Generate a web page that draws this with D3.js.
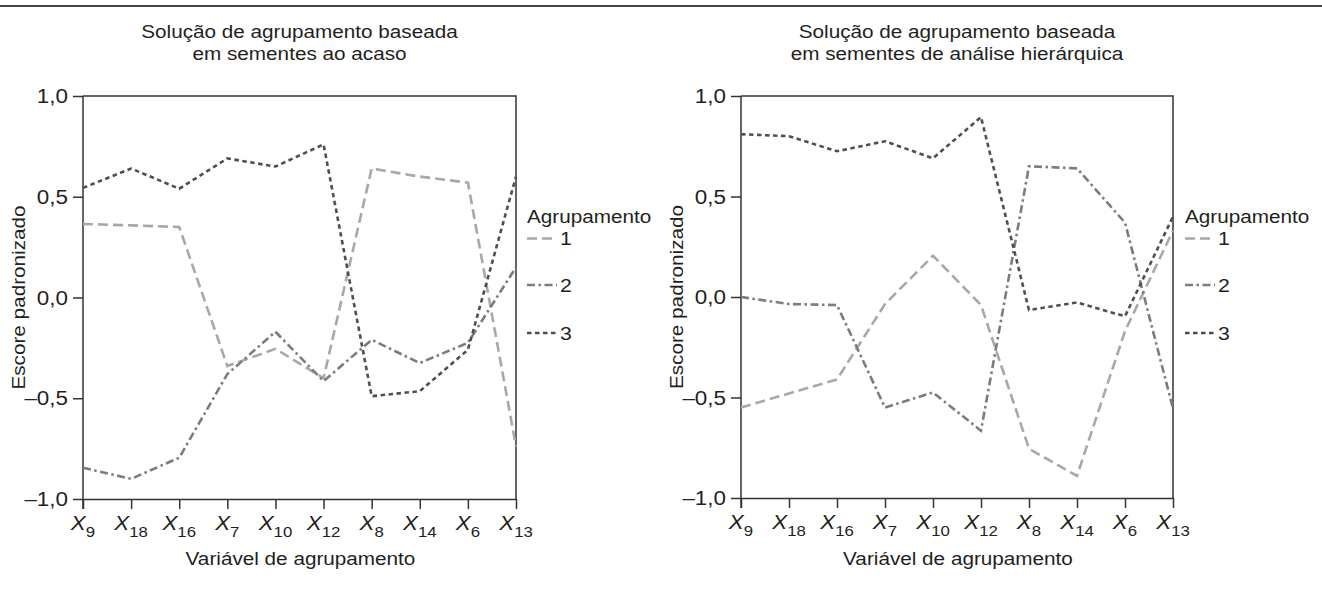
<!DOCTYPE html>
<html><head><meta charset="utf-8">
<script src="https://cdn.jsdelivr.net/npm/d3@7"></script>
<style>
body{margin:0;background:#fff;}
svg{display:block;font-family:"Liberation Sans",Arial,Helvetica,sans-serif;}
</style></head>
<body><svg id="c" width="1322" height="591"></svg>
<script>
// ---- data ----
const categories = ["9","18","16","7","10","12","8","14","6","13"];
const yTicks = [-1.0, -0.5, 0.0, 0.5, 1.0];
const seriesNames = ["1","2","3"];
const titlesLeft = ["Solução de agrupamento baseada","em sementes ao acaso"];
const titlesRight = ["Solução de agrupamento baseada","em sementes de análise hierárquica"];
const yLabel = "Escore padronizado";
const xLabel = "Variável de agrupamento";
const legendTitle = "Agrupamento";

// left panel: random seeds
const leftC1 = [0.365, 0.358, 0.350, -0.340, -0.255, -0.400, 0.640, 0.600, 0.570, -0.740];
const leftC2 = [-0.845, -0.900, -0.795, -0.380, -0.170, -0.415, -0.210, -0.325, -0.225, 0.150];
const leftC3 = [0.544, 0.640, 0.540, 0.690, 0.650, 0.760, -0.490, -0.465, -0.260, 0.600];
// right panel: hierarchical seeds
const rightC1 = [-0.550, -0.480, -0.410, -0.035, 0.205, -0.040, -0.755, -0.890, -0.170, 0.330];
const rightC2 = [0.000, -0.035, -0.040, -0.550, -0.475, -0.665, 0.650, 0.640, 0.370, -0.555];
const rightC3 = [0.810, 0.800, 0.725, 0.775, 0.690, 0.895, -0.065, -0.027, -0.096, 0.400];

// ---- styles ----
const colors = ["#a8a8a8", "#7c7c7c", "#4f4f4f"];
const dashes = ["10,5", "8,3.5,2.5,3.5", "4.5,3.5"];
const textColor = "#231f20";
const SX = 1.12; // horizontal text stretch
const FS = 18.5;

const svg = d3.select("#c");

// top rule
svg.append("line").attr("x1",0).attr("x2",1322).attr("y1",6).attr("y2",6)
  .attr("stroke","#444").attr("stroke-width",2.2);

function txt(g, x, y, s, opts={}) {
  const t = g.append("text")
    .attr("transform", `translate(${x},${y})${opts.rot?` rotate(${opts.rot})`:""} scale(${opts.sx||SX},1)`)
    .attr("fill", textColor)
    .attr("font-size", opts.fs || FS)
    .attr("text-anchor", opts.anchor || "start")
    .text(s);
  return t;
}

function panel(x0, x1, yTop, yBot, titles, data, legendX) {
  const g = svg.append("g");
  const x = d3.scalePoint().domain(categories).range([x0, x1]);
  const y = d3.scaleLinear().domain([-1, 1]).range([yBot, yTop]);

  // frame (top & right)
  g.append("path").attr("d", `M${x0},${yTop}H${x1}V${yBot}`)
    .attr("fill","none").attr("stroke","#333").attr("stroke-width",1.5);

  // y axis
  const ya = g.append("g").attr("transform",`translate(${x0},0)`)
    .call(d3.axisLeft(y).tickValues(yTicks).tickSize(10).tickFormat(""));
  ya.selectAll("path,line").attr("stroke","#333").attr("stroke-width",1.5);
  ya.select(".domain").attr("d", `M0,${yTop}V${yBot+10}`);
  yTicks.forEach(v => {
    const s = d3.format(".1f")(Math.abs(v)).replace(".", ",");
    txt(g, x0 - 15, y(v) + 7, (v < 0 ? "\u2013" : "") + s, {anchor:"end", fs:19.5, sx:1.15});
  });

  // x axis
  const xa = g.append("g").attr("transform",`translate(0,${yBot})`)
    .call(d3.axisBottom(x).tickSize(10).tickFormat("").tickSizeOuter(0));
  xa.selectAll("path,line").attr("stroke","#333").attr("stroke-width",1.5);
  categories.forEach(c => {
    const t = txt(g, x(c), yBot + 30.5, "", {anchor:"middle", fs:20, sx:1.12});
    t.append("tspan").attr("font-style","italic").text("X");
    t.append("tspan").attr("font-size",15).attr("dy",7).text(c);
  });

  // titles
  const cx = (x0 + x1) / 2;
  txt(g, cx, 37.5, titles[0], {anchor:"middle"});
  txt(g, cx, 59.5, titles[1], {anchor:"middle"});
  // axis labels
  txt(g, cx + 1, 565, xLabel, {anchor:"middle"});
  txt(g, x0 - 58, (yTop + yBot) / 2, yLabel, {anchor:"middle", rot:-90});

  // lines
  const line = d3.line().x((d,i) => x(categories[i])).y(d => y(d));
  data.forEach((vals, k) => {
    g.append("path").datum(vals).attr("d", line)
      .attr("fill","none").attr("stroke",colors[k]).attr("stroke-width",2.6)
      .attr("stroke-dasharray",dashes[k]).attr("stroke-linejoin","miter");
  });

  // legend
  txt(g, legendX, 222.5, legendTitle);
  const ly = [238.5, 285, 333];
  seriesNames.forEach((n, k) => {
    g.append("line").attr("x1",legendX).attr("x2",legendX+30)
      .attr("y1",ly[k]).attr("y2",ly[k])
      .attr("stroke",colors[k]).attr("stroke-width",2.6).attr("stroke-dasharray",dashes[k]);
    txt(g, legendX + 33, ly[k] + 6.5, n, {fs:19});
  });
}

panel(83, 516, 96, 499, titlesLeft, [leftC1, leftC2, leftC3], 527);
panel(741, 1173, 96, 498, titlesRight, [rightC1, rightC2, rightC3], 1185);
</script></body></html>
